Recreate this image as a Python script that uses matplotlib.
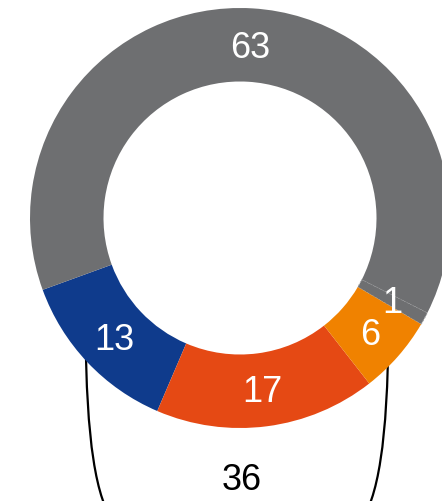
"""
Donut chart with a bracket grouping three segments.
"""

import numpy as np
import matplotlib.pyplot as plt
from matplotlib.path import Path
from matplotlib.patches import PathPatch


# data, listed counter-clockwise starting from the blue segment
labels = ["13", "17", "6", "1", "63"]
values = [13, 17, 6, 1, 63]
colors = ["#0f3b8c", "#e54914", "#f08200", "#6e6f71", "#6e6f71"]
group_total = 36  # 13 + 17 + 6

W, H = 442, 501
CX, CY = 240, H - 218
R = 210
RING = 0.35 * R

plt.rcParams["font.family"] = ["Liberation Sans", "DejaVu Sans"]

fig = plt.figure(figsize=(W / 100, H / 100), dpi=100)
ax = fig.add_axes([0, 0, 1, 1])

wedges, _ = ax.pie(
    values,
    radius=R,
    center=(CX, CY),
    startangle=200,
    counterclock=True,
    colors=colors,
    wedgeprops=dict(width=RING, linewidth=0),
)
for w in wedges:
    w.set_zorder(3)

# faint separator between the two grey slices
wedges[3].set_edgecolor("#a3a4a6")
wedges[3].set_linewidth(0.7)
wedges[3].set_linestyle((0, (2, 1.5)))
wedges[3].set_zorder(2.5)
wedges[2].set_zorder(4)

# value labels in the middle of each ring segment
r_mid = R - RING / 2
for w, lab in zip(wedges, labels):
    ang = np.deg2rad((w.theta1 + w.theta2) / 2)
    ax.text(
        CX + r_mid * np.cos(ang),
        CY + r_mid * np.sin(ang) - 3,
        lab,
        ha="center",
        va="center",
        color="white",
        fontsize=26,
        zorder=5,
    )

# bracket below the coloured segments
bx, half = 237, 151.5

for sign in (-1, 1):
    pts = [(bx + sign * half, H - 330),
           (bx + sign * (half - 1), H - 440),
           (bx + sign * (half - 10), H - 500),
           (bx + sign * (half - 30), H - 525)]
    codes = [Path.MOVETO, Path.CURVE4, Path.CURVE4, Path.CURVE4]
    ax.add_patch(PathPatch(Path(pts, codes), facecolor="none",
                           edgecolor="black", linewidth=1.6, zorder=1,
                           clip_on=False))

ax.text(242, H - 480, str(group_total), ha="center", va="center",
        color="black", fontsize=26, zorder=5)

ax.set_xlim(0, W)
ax.set_ylim(0, H)
ax.set_aspect("equal")
ax.axis("off")

fig.savefig("out.png", dpi=100)
